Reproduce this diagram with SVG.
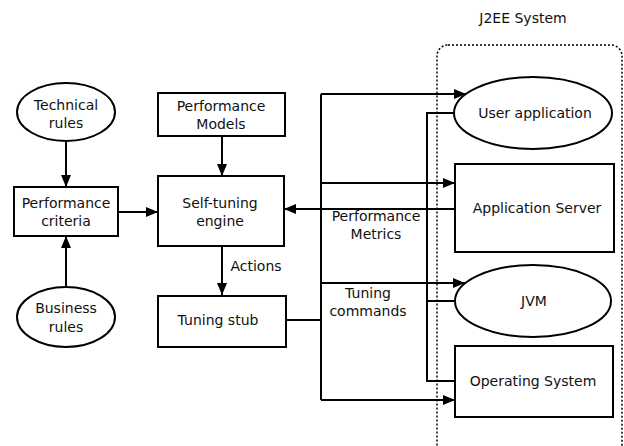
<svg xmlns="http://www.w3.org/2000/svg" width="624" height="446" viewBox="0 0 624 446">
<defs>
<marker id="ah" markerWidth="12" markerHeight="10" refX="12" refY="5" orient="auto" markerUnits="userSpaceOnUse">
<path d="M0,0 L12,5 L0,10 Z" fill="#000"/>
</marker>
<style>
.n{fill:#fff;stroke:#000;stroke-width:2}
.t{font-family:"DejaVu Sans",sans-serif;font-size:14px;fill:#111;text-anchor:middle}
.c{fill:none;stroke:#000;stroke-width:2}
.a{fill:none;stroke:#000;stroke-width:2;marker-end:url(#ah)}
</style>
</defs>
<rect width="624" height="446" fill="#fff"/>
<g id="j2ee">
<rect x="437" y="45" width="185" height="420" rx="11" fill="none" stroke="#000" stroke-width="1.5" stroke-dasharray="2,2"/>
<text class="t" x="523" y="23">J2EE System</text>
</g>
<g id="connectors">
<path class="a" d="M66,142 V187"/>
<path class="a" d="M66,287 V236"/>
<path class="a" d="M118,212 H158"/>
<path class="a" d="M222,136 V176"/>
<path class="a" d="M222,246 V295"/>
<path class="c" d="M286,320 H321"/>
<path class="c" d="M321,94 V400"/>
<path class="a" d="M321,94 H466"/>
<path class="a" d="M321,183 H455"/>
<path class="a" d="M321,283 H465"/>
<path class="a" d="M321,400 H455"/>
<path class="c" d="M454,113 H427 V381 H455"/>
<path class="c" d="M427,301 H455"/>
<path class="a" d="M455,209 H284"/>
<text class="t" x="256" y="271">Actions</text>
<text class="t" x="376" y="221">Performance</text>
<text class="t" x="376" y="239">Metrics</text>
<text class="t" x="368" y="298">Tuning</text>
<text class="t" x="368" y="316">commands</text>
</g>
<g id="technical-rules">
<ellipse class="n" cx="66" cy="112" rx="49" ry="29"/>
<text class="t" x="66" y="110">Technical</text>
<text class="t" x="66" y="128">rules</text>
</g>
<g id="performance-criteria">
<rect class="n" x="14" y="187" width="104" height="49"/>
<text class="t" x="66" y="208">Performance</text>
<text class="t" x="66" y="226">criteria</text>
</g>
<g id="business-rules">
<ellipse class="n" cx="66" cy="317" rx="49" ry="30"/>
<text class="t" x="66" y="313">Business</text>
<text class="t" x="66" y="332">rules</text>
</g>
<g id="performance-models">
<rect class="n" x="158" y="93" width="127" height="43"/>
<text class="t" x="221" y="111">Performance</text>
<text class="t" x="221" y="129">Models</text>
</g>
<g id="self-tuning-engine">
<rect class="n" x="158" y="176" width="126" height="70"/>
<text class="t" x="220" y="208">Self-tuning</text>
<text class="t" x="220" y="226">engine</text>
</g>
<g id="tuning-stub">
<rect class="n" x="158" y="296" width="128" height="51"/>
<text class="t" x="218" y="325">Tuning stub</text>
</g>
<g id="user-application">
<ellipse class="n" cx="533" cy="113" rx="79" ry="36"/>
<text class="t" x="535" y="118">User application</text>
</g>
<g id="application-server">
<rect class="n" x="455" y="164" width="159" height="88"/>
<text class="t" x="537" y="213">Application Server</text>
</g>
<g id="jvm">
<ellipse class="n" cx="533" cy="301" rx="78" ry="36"/>
<text class="t" x="534" y="306">JVM</text>
</g>
<g id="operating-system">
<rect class="n" x="455" y="346" width="158" height="71"/>
<text class="t" x="533" y="386">Operating System</text>
</g>
</svg>
